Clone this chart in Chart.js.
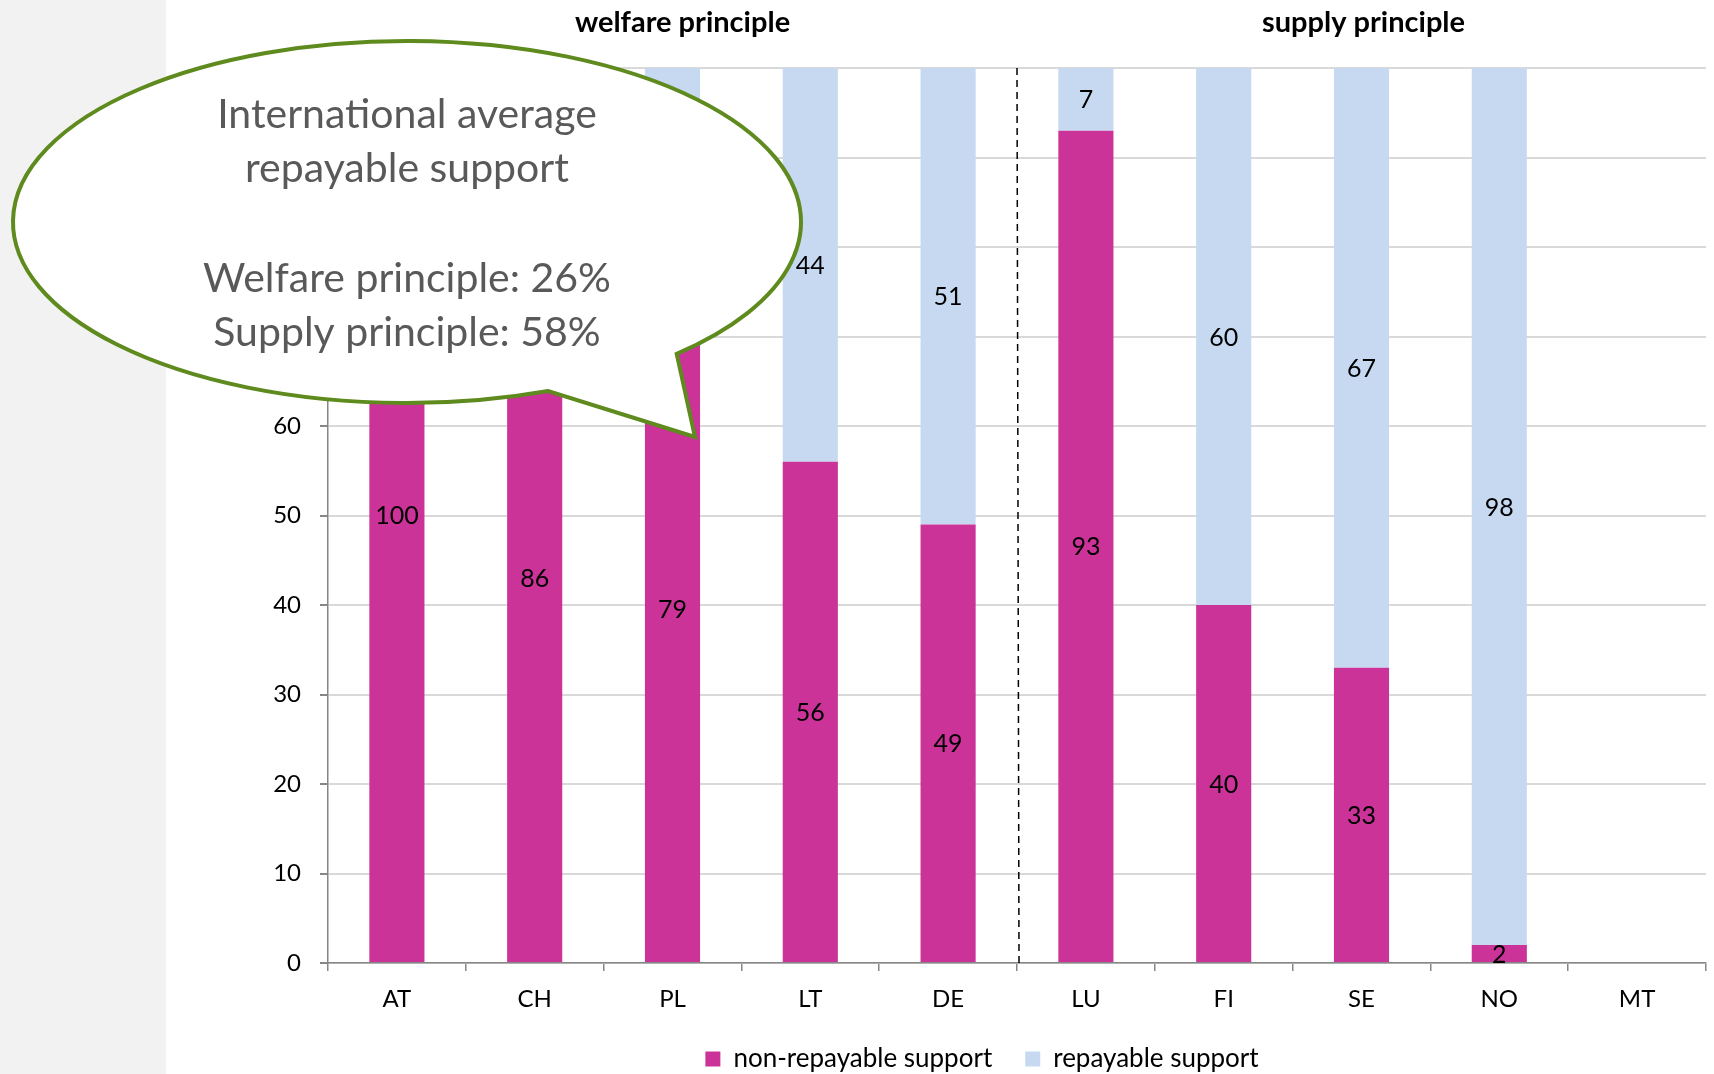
<!DOCTYPE html>
<html><head><meta charset="utf-8">
<script src="https://cdn.jsdelivr.net/npm/chart.js@4.4.0/dist/chart.umd.min.js"></script>
<style>html,body{margin:0;padding:0;background:#fff;overflow:hidden}
#wrap{width:1714px;height:1074px;position:relative;overflow:hidden}</style>
</head><body><div id="wrap"><canvas id="c" width="1714" height="1082"></canvas></div>
<script>
const categories = ['AT','CH','PL','LT','DE','LU','FI','SE','NO','MT'];
const nonRepayable = [100,86,79,56,49,93,40,33,2,null];
const repayable = [0,14,21,44,51,7,60,67,98,null];
const seriesNames = ['non-repayable support','repayable support'];
const yTickValues = [0,10,20,30,40,50,60,70,80,90,100];
const groupTitles = ['welfare principle','supply principle'];
const groupSizes = [5,5];
const calloutLines = ['International average','repayable support','','Welfare principle: 26%','Supply principle: 58%'];

const FONT = 'Lato, "Open Sans", sans-serif';
const MAGENTA = '#cc3399';
const LIGHTBLUE = '#c6d9f1';

const bgPlugin = {
  id:'bg',
  beforeDraw(chart){
    const ctx = chart.ctx;
    ctx.save();
    ctx.fillStyle = '#ffffff';
    ctx.fillRect(0,0,chart.width,chart.height);
    ctx.fillStyle = '#f2f2f2';
    ctx.fillRect(0,0,166,chart.height);
    ctx.restore();
  }
};

const dividerPlugin = {
  id:'divider',
  afterDatasetsDraw(chart){
    const ctx = chart.ctx, x = chart.scales.x, a = chart.chartArea;
    let idx = 0;
    ctx.save();
    for (let g = 0; g < groupSizes.length - 1; g++) {
      idx += groupSizes[g];
      const px = (x.getPixelForValue(idx-1) + x.getPixelForValue(idx)) / 2;
      ctx.beginPath();
      ctx.setLineDash([7,5]);
      ctx.strokeStyle = '#000';
      ctx.lineWidth = 1.5;
      ctx.moveTo(px, a.top);
      ctx.lineTo(px + 2, a.bottom);
      ctx.stroke();
    }
    ctx.setLineDash([]);
    let start = 0;
    ctx.font = 'bold 29px ' + FONT;
    ctx.fillStyle = '#000';
    ctx.textAlign = 'center';
    ctx.textBaseline = 'middle';
    const offs = [10, 2];
    groupSizes.forEach((n, g) => {
      const p0 = x.getPixelForValue(start), p1 = x.getPixelForValue(start+n-1);
      ctx.fillText(groupTitles[g], (p0+p1)/2 + offs[g], 23);
      start += n;
    });
    ctx.restore();
  }
};

const labelPlugin = {
  id:'barLabels',
  afterDatasetsDraw(chart){
    const ctx = chart.ctx;
    ctx.save();
    ctx.font = '25px ' + FONT;
    ctx.fillStyle = '#000';
    ctx.textAlign = 'center';
    ctx.textBaseline = 'middle';
    chart.data.datasets.forEach((ds, di) => {
      const meta = chart.getDatasetMeta(di);
      meta.data.forEach((el, i) => {
        const v = ds.data[i];
        if (v === null || v === 0) return;
        const p = el.getProps(['x','y','base'], true);
        ctx.fillText(String(v), p.x, (p.y + p.base)/2 + 1);
      });
    });
    ctx.restore();
  }
};

const calloutPlugin = {
  id:'callout',
  afterDraw(chart){
    const ctx = chart.ctx;
    const cx = 407, cy = 222, rx = 394, ry = 181;
    const t1 = 69*Math.PI/180, t2 = 46.8*Math.PI/180;
    const tip = {x:695, y:437};
    ctx.save();
    ctx.beginPath();
    ctx.ellipse(cx, cy, rx, ry, 0, t1, t2 + 2*Math.PI, false);
    ctx.lineTo(tip.x, tip.y);
    ctx.closePath();
    ctx.fillStyle = '#ffffff';
    ctx.fill();
    ctx.lineWidth = 4;
    ctx.strokeStyle = '#5e8a1e';
    ctx.lineJoin = 'miter';
    ctx.stroke();
    ctx.fillStyle = '#595959';
    ctx.font = '41px ' + FONT;
    ctx.textAlign = 'center';
    ctx.textBaseline = 'middle';
    const ys = [115,169,224,279,333];
    calloutLines.forEach((t, i) => { if (t) ctx.fillText(t, cx, ys[i]); });
    ctx.restore();
  }
};

new Chart(document.getElementById('c'), {
  type:'bar',
  data:{
    labels: categories,
    datasets:[
      {label: seriesNames[0], data: nonRepayable, backgroundColor: MAGENTA, borderWidth:0},
      {label: seriesNames[1], data: repayable, backgroundColor: LIGHTBLUE, borderWidth:0}
    ]
  },
  options:{
    responsive:false,
    animation:false,
    devicePixelRatio:1,
    categoryPercentage:0.5,
    barPercentage:0.8,
    layout:{padding:{left:258,right:8,top:68,bottom:0}},
    plugins:{
      tooltip:{enabled:false},
      legend:{
        position:'bottom',
        labels:{font:{family:FONT,size:26},color:'#000',boxWidth:15,boxHeight:15,padding:33}
      }
    },
    scales:{
      x:{
        stacked:true,
        grid:{display:true,drawOnChartArea:false,drawTicks:true,tickLength:8,color:'#868686',lineWidth:1.5,offset:true},
        border:{color:'#868686',width:1.5},
        ticks:{font:{family:FONT,size:24},color:'#000',padding:14},
        afterFit(s){ s.height = 50; }
      },
      y:{
        stacked:true,
        min:0,max:100,
        afterBuildTicks(s){ s.ticks = yTickValues.map(v => ({value:v})); },
        grid:{color:'#d9d9d9',lineWidth:2,tickColor:'#868686',tickLength:8,drawTicks:true},
        border:{color:'#868686',width:1.5},
        ticks:{font:{family:FONT,size:24},color:'#000',padding:19},
        afterFit(s){ s.width = 70; }
      }
    }
  },
  plugins:[bgPlugin, dividerPlugin, labelPlugin, calloutPlugin]
});
</script></body></html>
